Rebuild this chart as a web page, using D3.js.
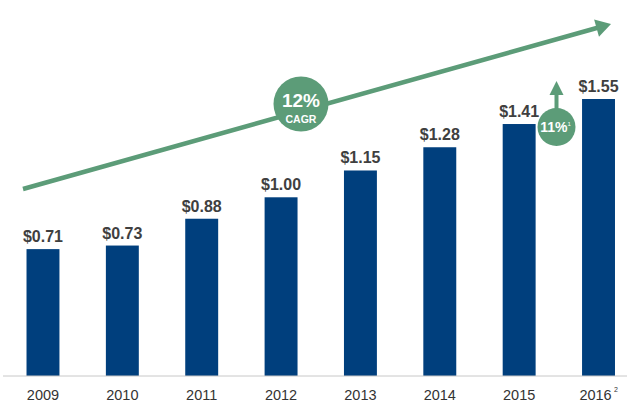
<!DOCTYPE html>
<html><head><meta charset="utf-8">
<script src="https://cdn.jsdelivr.net/npm/d3@7"></script>
<style>body{margin:0;background:#fff}svg{display:block}</style>
</head><body>
<svg id="c" width="640" height="411"></svg>
<script>
const years = ["2009","2010","2011","2012","2013","2014","2015","2016"];
const values = [0.71,0.73,0.88,1.00,1.15,1.28,1.41,1.55];
const labels = ["$0.71","$0.73","$0.88","$1.00","$1.15","$1.28","$1.41","$1.55"];
const cagrText = ["12%","CAGR"];
const growthText = "11%";

const svg = d3.select("#c");
const font = "Liberation Sans, Arial, sans-serif";
const green = "#5c9c78", blue = "#003f7d";

const x = d3.scaleBand().domain(years).range([3.5, 638]).paddingInner(0.585).paddingOuter(0.29);
const y = d3.scaleLinear().domain([0, 1.55]).range([376, 99]);

// bars
svg.selectAll("rect.bar").data(values).join("rect")
  .attr("x", (d,i)=>x(years[i])).attr("width", x.bandwidth())
  .attr("y", d=>y(d)).attr("height", d=>y(0)-y(d)).attr("fill", blue);

// axis line
svg.append("line").attr("x1",3).attr("x2",627).attr("y1",376).attr("y2",376)
  .attr("stroke","#c8c8c8").attr("stroke-width",1);

// value labels
svg.selectAll("text.val").data(values).join("text")
  .attr("x",(d,i)=>x(years[i])+x.bandwidth()/2).attr("y",d=>y(d)-7)
  .attr("text-anchor","middle").attr("font-family",font).attr("font-weight","bold")
  .attr("font-size",16).attr("fill","#3f3f3f").text((d,i)=>labels[i]);

// year labels
svg.selectAll("text.yr").data(years).join("text")
  .attr("x",(d,i)=>x(d)+x.bandwidth()/2 - (i===years.length-1?3:0)).attr("y",399.5)
  .attr("text-anchor","middle").attr("font-family",font)
  .attr("font-size",14.5).attr("fill","#333").text(d=>d);
svg.append("text").attr("x",614).attr("y",391.5)
  .attr("font-family",font).attr("font-size",7).attr("fill","#333").text("2");

// trend arrow
const ax0=23, ay0=189, ax1=611, ay1=24;
const ang = Math.atan2(ay1-ay0, ax1-ax0);
const hl = 15, hw = 9;
const bx = ax1 - hl*Math.cos(ang), by = ay1 - hl*Math.sin(ang);
svg.append("line").attr("x1",ax0).attr("y1",ay0).attr("x2",bx+2*Math.cos(ang)).attr("y2",by+2*Math.sin(ang))
  .attr("stroke",green).attr("stroke-width",4.5);
svg.append("polygon").attr("fill",green).attr("points",[
  [ax1,ay1],
  [bx - hw*Math.sin(ang), by + hw*Math.cos(ang)],
  [bx + hw*Math.sin(ang), by - hw*Math.cos(ang)]
].map(p=>p.join(",")).join(" "));

// CAGR badge
svg.append("circle").attr("cx",301).attr("cy",104).attr("r",27.5).attr("fill",green);
svg.append("text").attr("x",301).attr("y",107).attr("text-anchor","middle").attr("font-family",font)
  .attr("font-weight","bold").attr("font-size",19).attr("fill","#fff").text(cagrText[0]);
svg.append("text").attr("x",301).attr("y",123).attr("text-anchor","middle").attr("font-family",font)
  .attr("font-weight","bold").attr("font-size",10.5).attr("fill","#fff").text(cagrText[1]);

// 11% badge with up arrow
const gx = 556.5, gy = 127;
svg.append("line").attr("x1",gx).attr("y1",gy-15).attr("x2",gx).attr("y2",93)
  .attr("stroke",green).attr("stroke-width",4);
svg.append("polygon").attr("fill",green).attr("points",`${gx},81 ${gx-7},95 ${gx+7},95`);
svg.append("circle").attr("cx",gx).attr("cy",gy).attr("r",19).attr("fill",green);
const gt = svg.append("text").attr("x",gx-1).attr("y",gy+5).attr("text-anchor","middle").attr("font-family",font)
  .attr("font-weight","bold").attr("font-size",14).attr("fill","#fff");
gt.append("tspan").text(growthText);
gt.append("tspan").attr("font-size",6).attr("dy",-6).attr("font-weight","normal").text("1");
</script>
</body></html>
